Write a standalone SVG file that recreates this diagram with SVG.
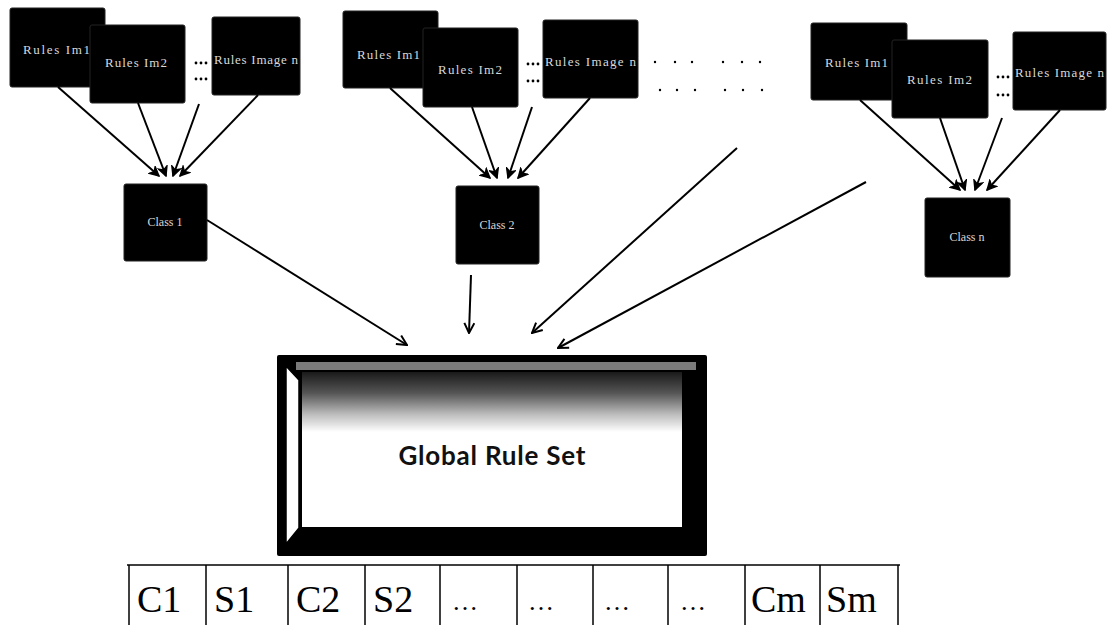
<svg xmlns="http://www.w3.org/2000/svg" width="1108" height="625" viewBox="0 0 1108 625">
<style>
.box{fill:#000;stroke:#222;stroke-width:1}
.lbl{fill:#d8d8d8;font-family:"Liberation Serif",serif;font-size:13px}
.cls{fill:#d8d8d8;font-family:"Liberation Serif",serif;font-size:12px;text-anchor:middle}
.dot{fill:#000}
.con line{stroke:#000;stroke-width:2;fill:none}
.cell{fill:#000;font-family:"Liberation Serif",serif;font-size:38px}
.ell{fill:#000;font-family:"Liberation Serif",serif;font-size:26px}
</style>
<defs>
<marker id="ah" viewBox="0 0 12 12" refX="11" refY="6" markerWidth="12" markerHeight="12" markerUnits="userSpaceOnUse" orient="auto">
<path d="M1,1 L11,6 L1,11" fill="none" stroke="#000" stroke-width="2"/>
</marker>
<marker id="ahs" viewBox="0 0 12 12" refX="11" refY="6" markerWidth="11" markerHeight="11" markerUnits="userSpaceOnUse" orient="auto">
<path d="M1,1 L11,6 L1,11 L4,6 Z" fill="#000" stroke="#000" stroke-width="1.5"/>
</marker>
<linearGradient id="noise" x1="0" y1="0" x2="0" y2="1">
<stop offset="0" stop-color="#1a1a1a"/>
<stop offset="0.35" stop-color="#555"/>
<stop offset="0.7" stop-color="#bbb"/>
<stop offset="1" stop-color="#fff"/>
</linearGradient>
</defs>

<rect width="1108" height="625" fill="#fff"/>

<!-- Group 1 -->
<g id="g1-rules-im1"><rect class="box" x="10" y="8" width="95" height="79" rx="2"/><text class="lbl" x="23" y="54" textLength="67">Rules Im1</text></g>
<g id="g1-rules-im2"><rect class="box" x="90" y="25" width="95" height="78" rx="2"/><text class="lbl" x="105" y="67" textLength="62">Rules Im2</text></g>
<g id="g1-dots"><circle class="dot" cx="196" cy="63" r="1.4"/><circle class="dot" cx="201" cy="63" r="1.4"/><circle class="dot" cx="206" cy="63" r="1.4"/><circle class="dot" cx="196" cy="79" r="1.4"/><circle class="dot" cx="201" cy="79" r="1.4"/><circle class="dot" cx="206" cy="79" r="1.4"/></g>
<g id="g1-rules-imagen"><rect class="box" x="212" y="17" width="88" height="78" rx="2"/><text class="lbl" x="214" y="64" textLength="84">Rules Image n</text></g>
<g id="class1"><rect class="box" x="124" y="184" width="83" height="77" rx="2"/><text class="cls" x="165" y="226">Class 1</text></g>

<!-- Group 2 -->
<g id="g2-rules-im1"><rect class="box" x="343" y="11" width="95" height="77" rx="2"/><text class="lbl" x="357" y="59" textLength="63">Rules Im1</text></g>
<g id="g2-rules-im2"><rect class="box" x="423" y="28" width="95" height="79" rx="2"/><text class="lbl" x="438" y="74" textLength="64">Rules Im2</text></g>
<g id="g2-dots"><circle class="dot" cx="528" cy="64" r="1.4"/><circle class="dot" cx="533" cy="64" r="1.4"/><circle class="dot" cx="538" cy="64" r="1.4"/><circle class="dot" cx="528" cy="81" r="1.4"/><circle class="dot" cx="533" cy="81" r="1.4"/><circle class="dot" cx="538" cy="81" r="1.4"/></g>
<g id="g2-rules-imagen"><rect class="box" x="543" y="20" width="95" height="78" rx="2"/><text class="lbl" x="545" y="66" textLength="91">Rules Image n</text></g>
<g id="class2"><rect class="box" x="456" y="186" width="83" height="78" rx="2"/><text class="cls" x="497" y="229">Class 2</text></g>

<!-- continuation dots -->
<g id="more-dots">
<circle class="dot" cx="655" cy="62" r="1.2"/><circle class="dot" cx="675" cy="62" r="1.2"/><circle class="dot" cx="692" cy="62" r="1.2"/><circle class="dot" cx="723" cy="62" r="1.2"/><circle class="dot" cx="742" cy="62" r="1.2"/><circle class="dot" cx="760" cy="62" r="1.2"/>
<circle class="dot" cx="660" cy="90" r="1.2"/><circle class="dot" cx="677" cy="90" r="1.2"/><circle class="dot" cx="695" cy="90" r="1.2"/><circle class="dot" cx="725" cy="90" r="1.2"/><circle class="dot" cx="743" cy="90" r="1.2"/><circle class="dot" cx="762" cy="90" r="1.2"/>
</g>

<!-- Group 3 -->
<g id="g3-rules-im1"><rect class="box" x="811" y="23" width="96" height="77" rx="2"/><text class="lbl" x="825" y="67" textLength="63">Rules Im1</text></g>
<g id="g3-rules-im2"><rect class="box" x="892" y="40" width="96" height="78" rx="2"/><text class="lbl" x="907" y="84" textLength="65">Rules Im2</text></g>
<g id="g3-dots"><circle class="dot" cx="998" cy="77" r="1.4"/><circle class="dot" cx="1003" cy="77" r="1.4"/><circle class="dot" cx="1008" cy="77" r="1.4"/><circle class="dot" cx="998" cy="95" r="1.4"/><circle class="dot" cx="1003" cy="95" r="1.4"/><circle class="dot" cx="1008" cy="95" r="1.4"/></g>
<g id="g3-rules-imagen"><rect class="box" x="1013" y="32" width="93" height="78" rx="2"/><text class="lbl" x="1015" y="77" textLength="89">Rules Image n</text></g>
<g id="classn"><rect class="box" x="925" y="198" width="85" height="79" rx="2"/><text class="cls" x="967" y="241">Class n</text></g>

<!-- Global Rule Set -->
<g id="global-rule-set">
<rect x="277" y="355" width="430" height="201" rx="2" fill="#000"/>
<rect x="286" y="363" width="412" height="184" fill="#000"/>
<rect x="302" y="372" width="380" height="155" fill="#fff"/>
<rect x="302" y="372" width="380" height="60" fill="url(#noise)"/>
<rect x="296" y="362" width="400" height="8" fill="#9a9a9a" opacity="0.8"/>
<polygon points="286,366 299,380 299,528 286,544" fill="#fff" stroke="#000" stroke-width="1.5"/>
<text x="492" y="465" text-anchor="middle" font-family="Lato, 'Open Sans', sans-serif" font-weight="bold" font-size="26" textLength="187" fill="#111">Global Rule Set</text>
</g>

<!-- Table -->
<g id="table" stroke="#000" stroke-width="1.5">
<line x1="127" y1="565" x2="900" y2="565"/>
<line x1="129" y1="565" x2="129" y2="625"/>
<line x1="206" y1="565" x2="206" y2="625"/>
<line x1="288" y1="565" x2="288" y2="625"/>
<line x1="365" y1="565" x2="365" y2="625"/>
<line x1="440" y1="565" x2="440" y2="625"/>
<line x1="517" y1="565" x2="517" y2="625"/>
<line x1="593" y1="565" x2="593" y2="625"/>
<line x1="668" y1="565" x2="668" y2="625"/>
<line x1="745" y1="565" x2="745" y2="625"/>
<line x1="820" y1="565" x2="820" y2="625"/>
<line x1="898" y1="565" x2="898" y2="625"/>
</g>
<g id="table-text">
<text class="cell" x="137" y="612">C1</text>
<text class="cell" x="214" y="612">S1</text>
<text class="cell" x="296" y="612">C2</text>
<text class="cell" x="373" y="612">S2</text>
<text class="ell" x="452" y="610">…</text>
<text class="ell" x="528" y="610">…</text>
<text class="ell" x="604" y="610">…</text>
<text class="ell" x="680" y="610">…</text>
<text class="cell" x="751" y="612">Cm</text>
<text class="cell" x="826" y="612">Sm</text>
</g>

<!-- Connectors -->
<g id="connectors" class="con">
<line x1="58" y1="87" x2="159" y2="176" marker-end="url(#ahs)"/>
<line x1="138" y1="103" x2="166" y2="176" marker-end="url(#ahs)"/>
<line x1="199" y1="104" x2="173" y2="176" marker-end="url(#ahs)"/>
<line x1="258" y1="95" x2="180" y2="176" marker-end="url(#ahs)"/>

<line x1="390" y1="88" x2="490" y2="178" marker-end="url(#ahs)"/>
<line x1="472" y1="107" x2="497" y2="178" marker-end="url(#ahs)"/>
<line x1="532" y1="107" x2="508" y2="178" marker-end="url(#ahs)"/>
<line x1="590" y1="98" x2="518" y2="178" marker-end="url(#ahs)"/>

<line x1="860" y1="100" x2="960" y2="190" marker-end="url(#ahs)"/>
<line x1="940" y1="118" x2="965" y2="190" marker-end="url(#ahs)"/>
<line x1="1002" y1="118" x2="975" y2="190" marker-end="url(#ahs)"/>
<line x1="1060" y1="110" x2="987" y2="190" marker-end="url(#ahs)"/>

<line x1="207" y1="220" x2="407" y2="345" marker-end="url(#ah)"/>
<line x1="471" y1="275" x2="469" y2="333" marker-end="url(#ah)"/>
<line x1="737" y1="148" x2="532" y2="333" marker-end="url(#ah)"/>
<line x1="866" y1="182" x2="558" y2="348" marker-end="url(#ah)"/>
</g>
</svg>
